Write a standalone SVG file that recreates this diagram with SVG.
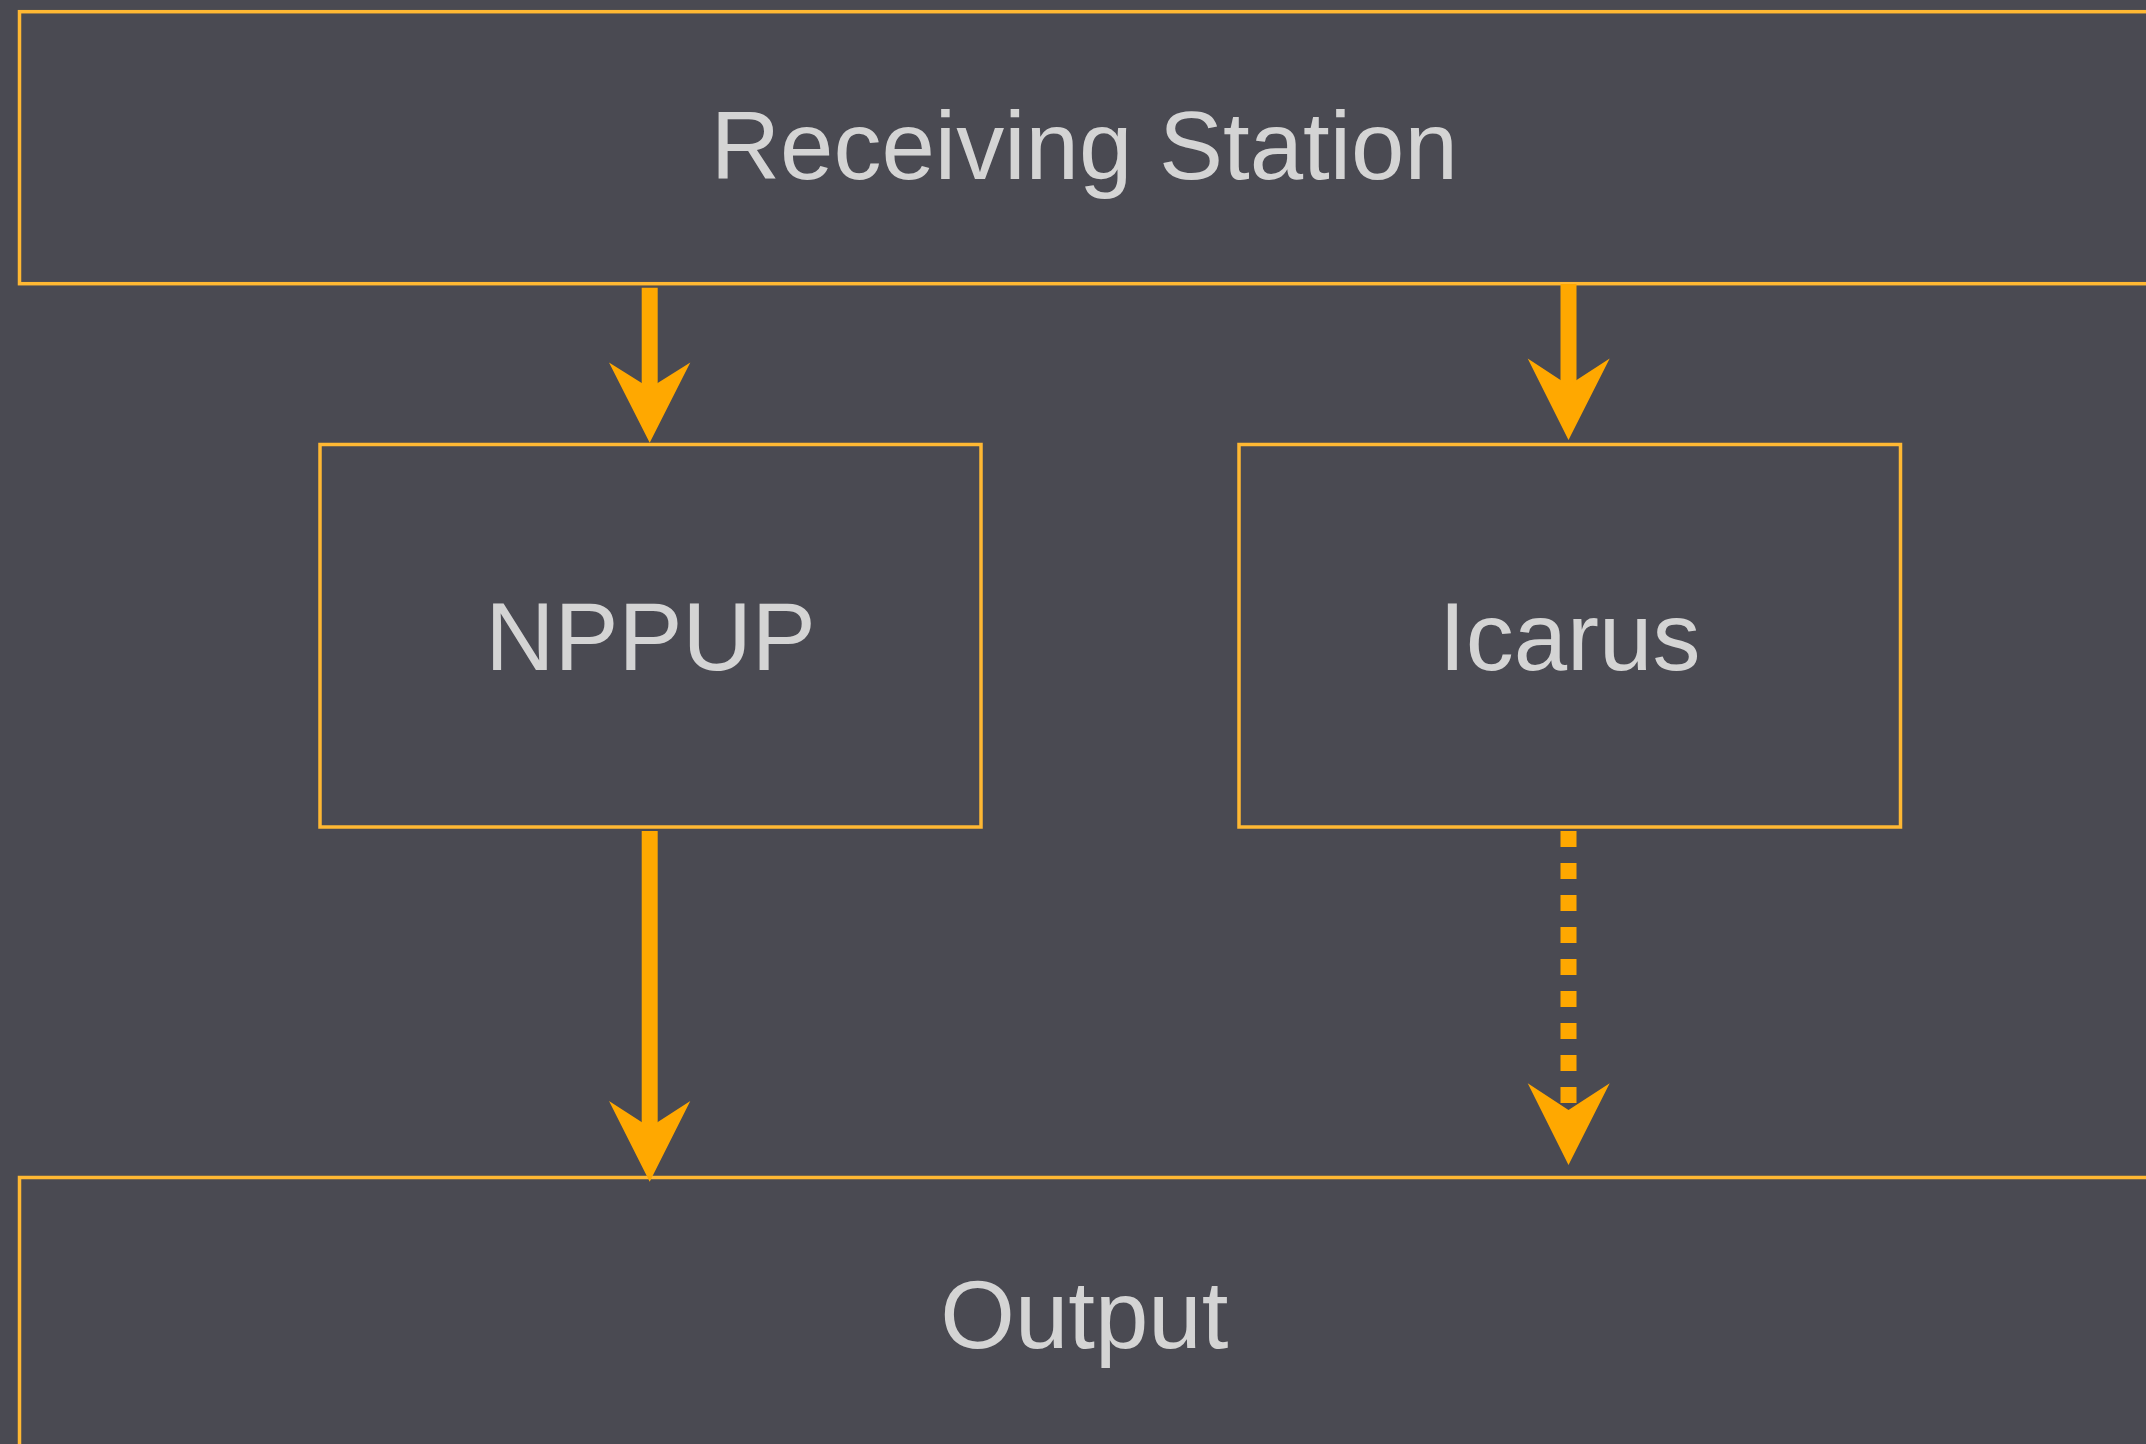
<svg xmlns="http://www.w3.org/2000/svg" width="2146" height="1444" viewBox="0 0 2146 1444">
  <style>
    .box { fill: #4a4a52; stroke: #ffb833; stroke-width: 3.5; }
    .lbl { font-family: "Liberation Sans", Arial, sans-serif; font-size: 96px; fill: #d4d4d4; text-anchor: middle; }
    .shaft { stroke: #ffa800; stroke-width: 16; fill: none; }
    .dash { stroke-dasharray: 16 16; }
    .head { fill: #ffa800; }
  </style>
  <rect width="2146" height="1444" fill="#4a4a52"/>
  <g id="node-receiving">
    <rect class="box" x="19.5" y="11.7" width="2130" height="272"/>
    <text class="lbl" x="1084.3" y="179.3">Receiving Station</text>
  </g>
  <g id="node-nppup">
    <rect class="box" x="320" y="444.5" width="661" height="382.5"/>
    <text class="lbl" x="650.5" y="670">NPPUP</text>
  </g>
  <g id="node-icarus">
    <rect class="box" x="1239" y="444.5" width="661.5" height="382.5"/>
    <text class="lbl" x="1569.75" y="670">Icarus</text>
  </g>
  <g id="node-output">
    <rect class="box" x="19.5" y="1177.5" width="2130" height="272"/>
    <text class="lbl" x="1084.3" y="1348">Output</text>
  </g>
  <g id="connectors">
    <line class="shaft" x1="649.7" y1="287.7" x2="649.7" y2="390"/>
    <polygon class="head" points="609,362.5 649.7,388 690.3,362.5 649.7,442.7"/>
    <line class="shaft" x1="1568.5" y1="284" x2="1568.5" y2="387"/>
    <polygon class="head" points="1527.7,358.5 1568.5,385.3 1609.7,358.5 1568.5,440"/>
    <line class="shaft" x1="649.7" y1="831" x2="649.7" y2="1129"/>
    <polygon class="head" points="609,1101 649.7,1127.3 690.3,1101 649.7,1181.7"/>
    <line class="shaft dash" x1="1568.5" y1="831" x2="1568.5" y2="1103"/>
    <polygon class="head" points="1527.7,1083.3 1568.5,1110 1609.7,1083.3 1568.5,1165"/>
  </g>
</svg>
